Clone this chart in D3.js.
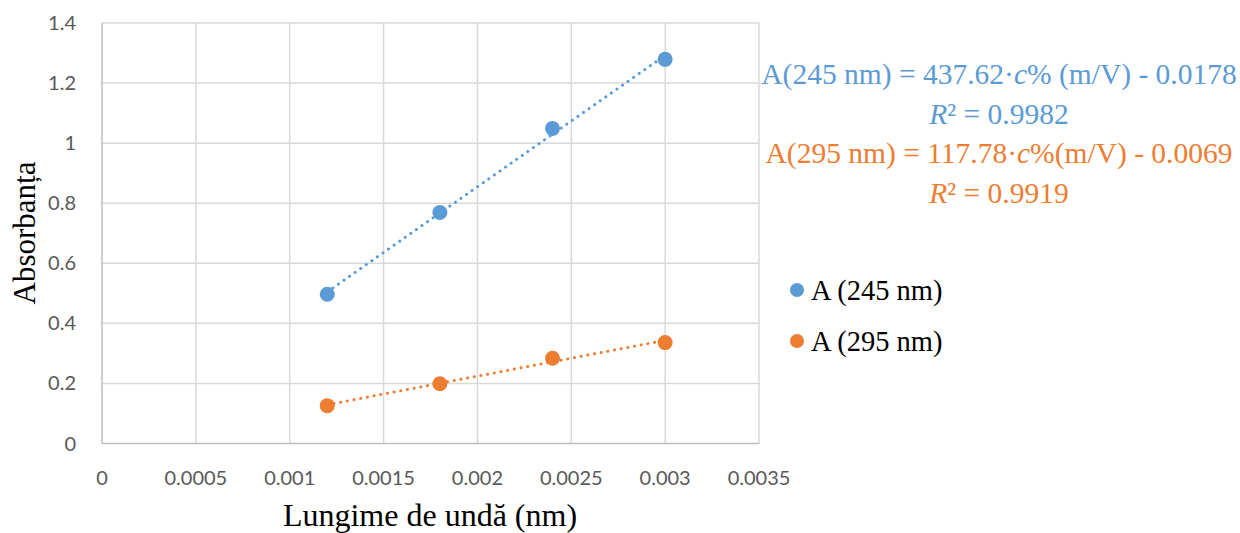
<!DOCTYPE html>
<html>
<head>
<meta charset="utf-8">
<script src="https://cdn.jsdelivr.net/npm/d3@7"></script>
<style>
  body { margin: 0; background: #fff; }
  svg { display: block; }
</style>
</head>
<body>
<svg id="chart" width="1240" height="533"></svg>
<script>
// concentrations (x) and absorbance readings per wavelength
var conc = [0.0012, 0.0018, 0.0024, 0.003];
var abs245 = [0.497, 0.769, 1.049, 1.279];
var abs295 = [0.126, 0.199, 0.284, 0.336];
var xTicks = [0, 0.0005, 0.001, 0.0015, 0.002, 0.0025, 0.003, 0.0035];
var yTicks = [0, 0.2, 0.4, 0.6, 0.8, 1, 1.2, 1.4];
var seriesNames = ["A (245 nm)", "A (295 nm)"];
var seriesColors = ["#5b9bd5", "#ed7d31"];
var eqLines = [
  {parts: ["A(245 nm) = 437.62·", "c", "% (m/V) - 0.0178"], color: 0},
  {parts: ["", "R", "² = 0.9982"], color: 0},
  {parts: ["A(295 nm) = 117.78·", "c", "%(m/V) - 0.0069"], color: 1},
  {parts: ["", "R", "² = 0.9919"], color: 1}
];

var svg = d3.select("#chart");
var plotL = 102, plotR = 759, plotT = 23, plotB = 443.5;

var x = d3.scaleLinear().domain([0, 0.0035]).range([plotL, plotR]);
var y = d3.scaleLinear().domain([0, 1.4]).range([plotB, plotT]);

// grid
svg.append("g").selectAll("line").data(yTicks.slice(1)).enter().append("line")
  .attr("x1", plotL).attr("x2", plotR)
  .attr("y1", d => y(d)).attr("y2", d => y(d))
  .attr("stroke", "#d9d9d9").attr("stroke-width", 1.5);
svg.append("g").selectAll("line").data(xTicks.slice(1)).enter().append("line")
  .attr("x1", d => x(d)).attr("x2", d => x(d))
  .attr("y1", plotT).attr("y2", plotB)
  .attr("stroke", "#d9d9d9").attr("stroke-width", 1.5);

// axis lines
svg.append("line").attr("x1", plotL).attr("x2", plotL).attr("y1", plotT).attr("y2", plotB)
  .attr("stroke", "#bfbfbf").attr("stroke-width", 1.5);
svg.append("line").attr("x1", plotL).attr("x2", plotR).attr("y1", plotB).attr("y2", plotB)
  .attr("stroke", "#bfbfbf").attr("stroke-width", 1.5);

var tickFont = "Lato, 'Open Sans', sans-serif";
svg.append("g").selectAll("text").data(yTicks).enter().append("text")
  .attr("x", 76).attr("y", d => y(d)).attr("dy", "0.35em")
  .attr("text-anchor", "end").attr("fill", "#595959")
  .style("font-family", tickFont).style("font-size", "20px")
  .text(d => d3.format("~g")(d));
svg.append("g").selectAll("text").data(xTicks).enter().append("text")
  .attr("x", d => x(d)).attr("y", 478).attr("dy", "0.35em")
  .attr("text-anchor", "middle").attr("fill", "#595959")
  .style("font-family", tickFont).style("font-size", "20px")
  .text(d => d3.format("~g")(d));

var serif = "'Liberation Serif', 'DejaVu Serif', serif";
svg.append("text").attr("x", 430).attr("y", 526)
  .attr("text-anchor", "middle").attr("fill", "#000")
  .style("font-family", serif).style("font-size", "32px")
  .text("Lungime de undă (nm)");
svg.append("text").attr("transform", "translate(35,233) rotate(-90)")
  .attr("text-anchor", "middle").attr("fill", "#000")
  .style("font-family", serif).style("font-size", "31px")
  .text("Absorbanța");

// trendlines (least squares from the data)
function fit(xs, ys) {
  var mx = d3.mean(xs), my = d3.mean(ys);
  var sxy = d3.sum(xs, (v, i) => (v - mx) * (ys[i] - my));
  var sxx = d3.sum(xs, v => (v - mx) * (v - mx));
  var b = sxy / sxx;
  return {b: b, a: my - b * mx};
}
var series = [abs245, abs295];
series.forEach(function(ys, si) {
  var f = fit(conc, ys);
  var x0 = d3.min(conc), x1 = d3.max(conc);
  svg.append("line")
    .attr("x1", x(x0)).attr("y1", y(f.a + f.b * x0))
    .attr("x2", x(x1)).attr("y2", y(f.a + f.b * x1))
    .attr("stroke", seriesColors[si]).attr("stroke-width", 3)
    .attr("stroke-linecap", "round").attr("stroke-dasharray", "0.1 6.7");
  svg.append("g").selectAll("circle").data(conc).enter().append("circle")
    .attr("cx", d => x(d)).attr("cy", (d, i) => y(ys[i]))
    .attr("r", 7.5).attr("fill", seriesColors[si]);
});

// legend
seriesNames.forEach(function(name, i) {
  var ly = 290 + i * 51;
  svg.append("circle").attr("cx", 797).attr("cy", ly).attr("r", 7).attr("fill", seriesColors[i]);
  svg.append("text").attr("x", 811).attr("y", ly).attr("dy", "0.35em")
    .attr("fill", "#000").style("font-family", serif).style("font-size", "28.5px")
    .text(name);
});

// trendline equations
eqLines.forEach(function(ln, i) {
  var t = svg.append("text").attr("x", 999).attr("y", 74 + i * 39.5).attr("dy", "0.35em")
    .attr("text-anchor", "middle").attr("fill", seriesColors[ln.color])
    .style("font-family", serif).style("font-size", "29.5px");
  t.append("tspan").text(ln.parts[0]);
  t.append("tspan").style("font-style", "italic").text(ln.parts[1]);
  t.append("tspan").text(ln.parts[2]);
});
</script>
</body>
</html>
